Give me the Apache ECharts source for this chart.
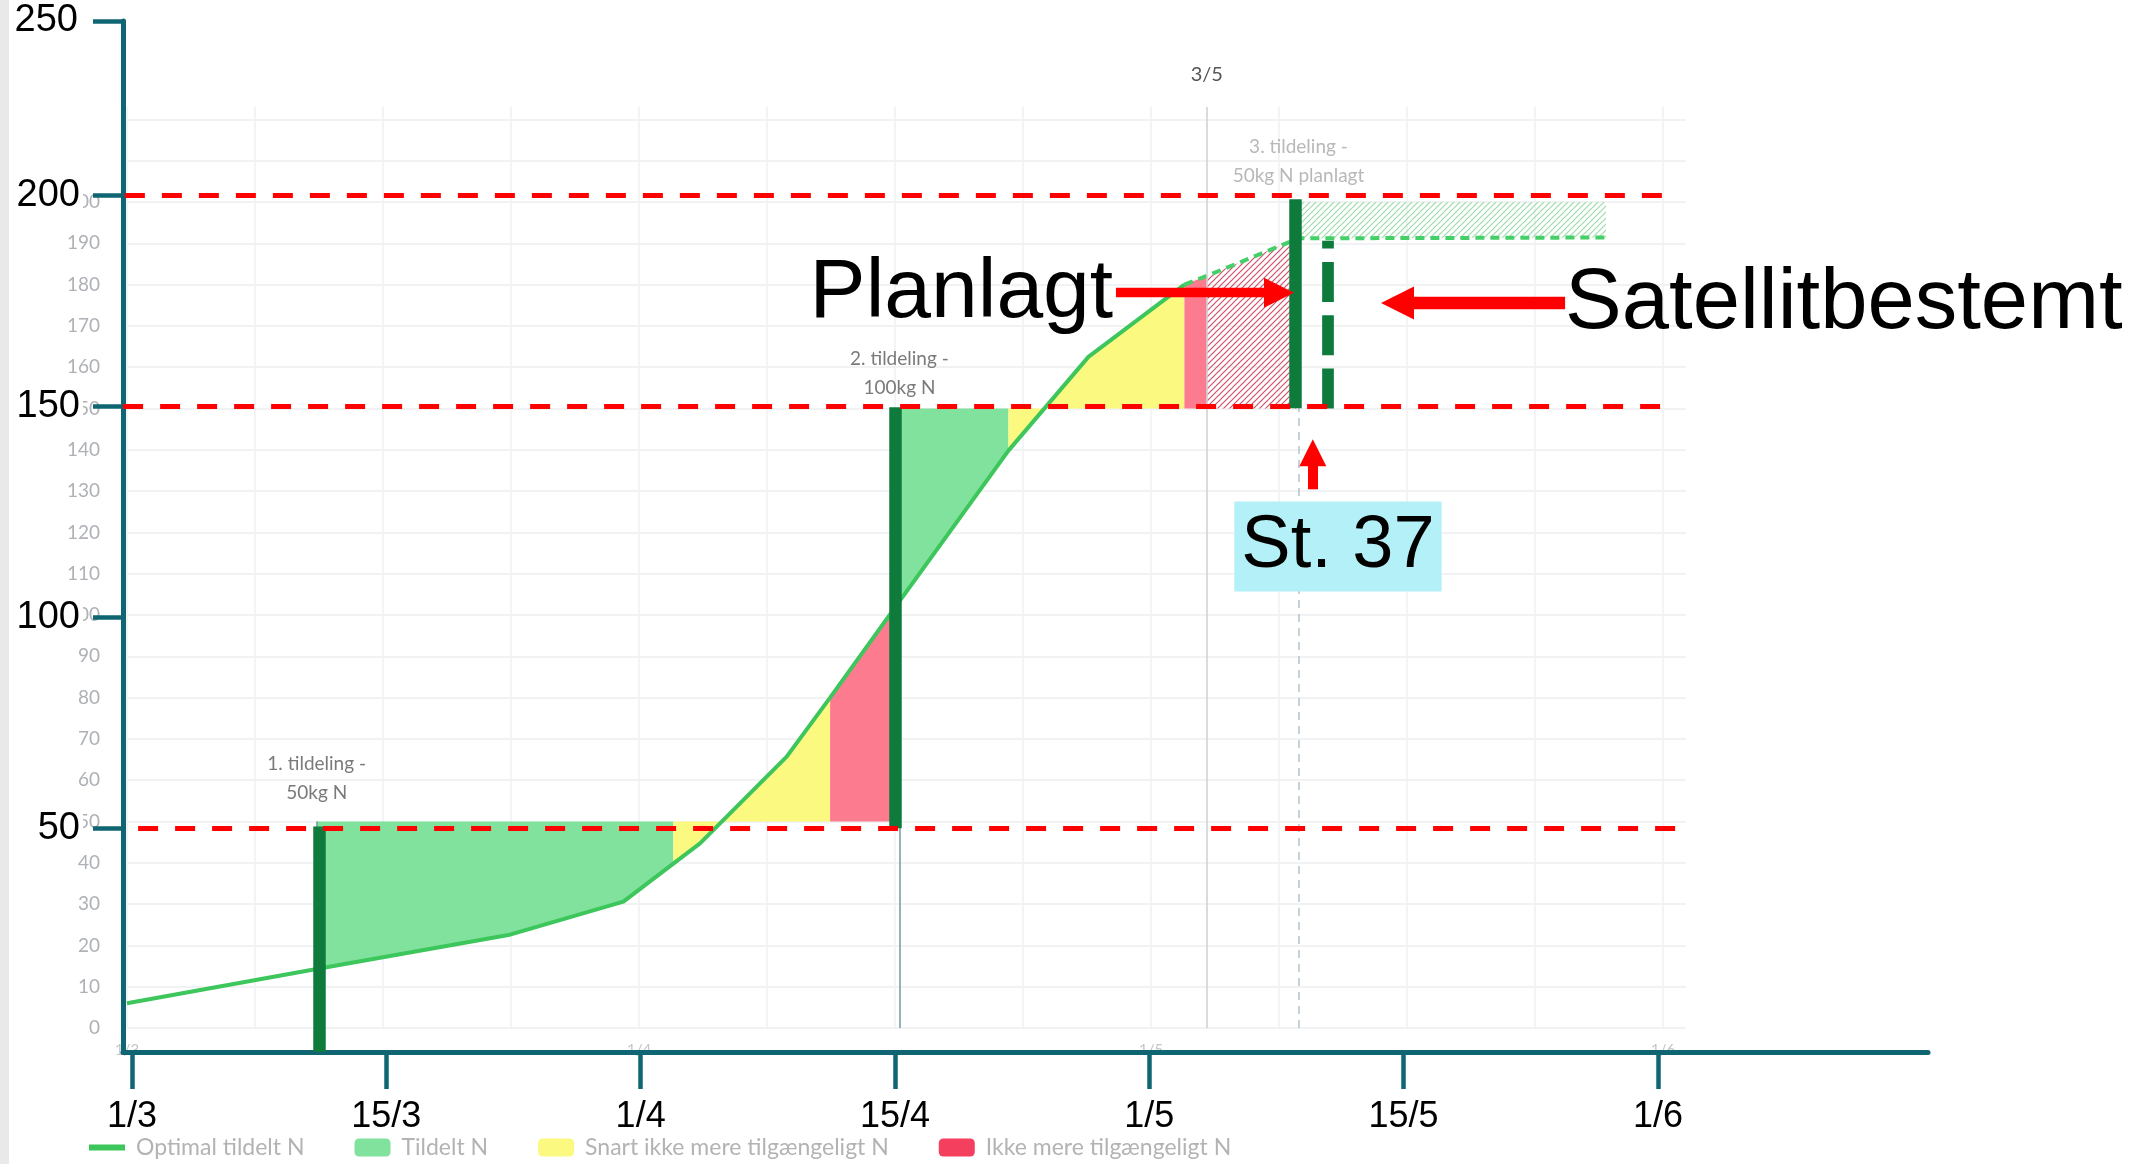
<!DOCTYPE html>
<html><head><meta charset="utf-8">
<script src="https://cdn.jsdelivr.net/npm/echarts@6/dist/echarts.min.js"></script>
<style>html,body{margin:0;padding:0;background:#fff}#c{width:2149px;height:1164px}</style>
</head><body><div id="c"></div><script>
// ---------- underlying chart (x = days since 1 March) ----------
const curveDays   = [0, 11.36, 22.84, 29.73, 32.72, 34.32, 39.51, 42.11, 46.26, 52.79, 57.58, 63.33, 64.67, 70.16, 88.58];
const curveValues = [6.0, 14.3, 22.5, 30.6, 39.8, 44.7, 65.7, 80.0, 103.3, 139.8, 162.5, 180.0, 182.1, 191.2, 191.4];
const plannedFromDay = 63.33;
const tildelingDays   = [11.36, 46.26, 70.16];
const tildelingLevels = [50, 150, 200];
const tildelingLabels = ['1. tildeling -\n50kg N', '2. tildeling -\n100kg N', '3. tildeling -\n50kg N planlagt'];
const todayDay = 64.67;
const todayLabel = '3/5';
const regionStart = [11.36, 32.72, 42.11, 46.26, 52.79, 63.33, 64.67, 70.16];
const regionEnd   = [32.72, 42.11, 46.26, 52.79, 63.33, 64.67, 70.16, 88.58];
const regionLevel = [50, 50, 50, 150, 150, 150, 150, 200];
const regionKind  = ['tildelt', 'snart', 'ikke', 'tildelt', 'snart', 'ikke', 'ikkePlan', 'tildeltPlan'];
const underlyingXLabels = ['1/3', '', '', '', '1/4', '', '', '', '1/5', '', '', '', '1/6'];
const legendNames = ['Optimal tildelt N', 'Tildelt N', 'Snart ikke mere tilgængeligt N', 'Ikke mere tilgængeligt N'];

// ---------- overlay (hand-drawn axes, x = tick index) ----------
const overlayXLabels = ['1/3', '15/3', '1/4', '15/4', '1/5', '15/5', '1/6'];
const overlayXTicks = [0, 1, 2, 3, 4, 5, 6];
const overlayYTicks = [50, 100, 150, 200];
const overlayTopTicks = [250];
const markerLevels = [50, 150, 200];
const markerStart  = [0.024, -0.035, -0.028];
const markerEnd    = [6.105, 6.04, 6.052];
const barX    = [0.7346, 3.0024, 4.5753];
const barFrom = [-3.05, 50, 149.55];
const barTo   = [50.4, 149.8, 199.1];
const satX = 4.701, satFrom = 149.5, satTo = 189.3;
const arrowFrom = [[3.869, 176.96], [5.635, 174.5], [4.643, 130.35]];
const arrowTo   = [[4.510, 176.96], [4.976, 174.5], [4.643, 139.0]];
const notes = [
  {text: 'Planlagt', at: [3.858, 176.6], align: 'right'},
  {text: 'Satellitbestemt', at: [5.635, 174.16], align: 'left'},
  {text: 'St. 37', at: [4.742, 116.8], align: 'center'}
];

// ---------- styles ----------
const TEAL = '#0f6672';
const DARK_GREEN = '#0e7b3d';
function hatch(color) {
  const c = document.createElement('canvas');
  c.width = 6; c.height = 6;
  const g = c.getContext('2d');
  g.strokeStyle = color; g.lineWidth = 1.2;
  g.beginPath();
  g.moveTo(0, 6); g.lineTo(6, 0);
  g.moveTo(-1, 1); g.lineTo(1, -1);
  g.moveTo(5, 7); g.lineTo(7, 5);
  g.stroke();
  return {image: c, repeat: 'repeat'};
}
const fills = {
  tildelt: '#80e29d',
  snart: '#fbf97f',
  ikke: '#fc7b8f',
  ikkePlan: hatch('#d0506b'),
  tildeltPlan: hatch('#9ddcab')
};

function renderRegion(params, api) {
  const i = api.value(3);
  const a = regionStart[i], b = regionEnd[i], L = regionLevel[i];
  const pts = [api.coord([a, L])];
  for (let k = 0; k < curveDays.length; k++) {
    if (curveDays[k] >= a - 1e-9 && curveDays[k] <= b + 1e-9) pts.push(api.coord([curveDays[k], curveValues[k]]));
  }
  pts.push(api.coord([b, L]));
  return {type: 'polygon', shape: {points: pts}, style: {fill: fills[regionKind[i]]}};
}
function regionSeries(name, kinds, color) {
  return {
    type: 'custom', name, xAxisIndex: 0, yAxisIndex: 0, z: 1, silent: true,
    itemStyle: {color}, renderItem: renderRegion, encode: {x: [0, 1], y: 2},
    data: regionStart.map((s, i) => [s, regionEnd[i], regionLevel[i], i]).filter(r => kinds.includes(regionKind[r[3]]))
  };
}

const solidCurve = curveDays.map((d, i) => [d, curveValues[i]]).filter(p => p[0] <= plannedFromDay + 1e-9);
const plannedCurve = curveDays.map((d, i) => [d, curveValues[i]]).filter(p => p[0] >= plannedFromDay - 1e-9);

const tildelingLines = tildelingDays.map((d, i) => {
  const planned = i === 2;
  const ls = {color: planned ? '#b3c3cb' : '#6f99a4', width: 1.5, type: planned ? [8, 6] : 'solid'};
  const lab = {show: true, position: 'end', formatter: tildelingLabels[i], color: planned ? '#b8b8b8' : '#7a7a7a',
    fontSize: 19, lineHeight: 29, fontFamily: 'Lato', distance: [14, 6, 12][i]};
  return [{coord: [d, 0], lineStyle: ls, label: lab}, {coord: [d, tildelingLevels[i]], lineStyle: ls, label: lab}];
});

const overlayFont = 'Liberation Sans, Arial';
const option = {
  animation: false,
  backgroundColor: '#fff',
  graphic: [{type: 'rect', shape: {x: 0, y: 0, width: 9, height: 1164}, style: {fill: '#e9e9e9'}, silent: true}],
  grid: [
    {left: 127, top: 107, width: 1559, height: 921},
    {left: 123, top: 195.5, width: 1805, height: 856.5},
    {left: 123, top: 21, width: 1805, height: 174.5}
  ],
  xAxis: [
    {gridIndex: 0, type: 'value', min: 0, max: 93.37, interval: 92 / 12,
      axisLine: {show: false}, axisTick: {show: false},
      splitLine: {show: true, showMaxLine: false, lineStyle: {color: '#eef0f3', width: 1.5}},
      axisLabel: {formatter: (v, idx) => underlyingXLabels[idx] || '', color: '#c3c5c9', fontSize: 15, fontFamily: 'Lato', margin: 15}},
    {gridIndex: 1, type: 'value', min: -0.0354, max: 7.062, z: 3, position: 'bottom',
      axisLine: {show: true, onZero: false, lineStyle: {color: TEAL, width: 5}},
      axisTick: {show: true, customValues: overlayXTicks, length: 37, lineStyle: {color: TEAL, width: 4.5}},
      axisLabel: {show: true, customValues: overlayXTicks, formatter: v => overlayXLabels[Math.round(v)] || '',
        color: '#000', fontSize: 36, fontFamily: overlayFont, margin: 47},
      splitLine: {show: false}},
    {gridIndex: 2, type: 'value', min: -0.0354, max: 7.062, show: false}
  ],
  yAxis: [
    {gridIndex: 0, type: 'value', min: 0, max: 223, interval: 10,
      axisLine: {show: false}, axisTick: {show: false},
      splitLine: {show: true, showMaxLine: false, lineStyle: {color: '#eceef1', width: 1.5}},
      axisLabel: {formatter: v => (v <= 200 ? String(v) : ''), color: '#aeb1b6', fontSize: 19, fontFamily: 'Lato', margin: 27}},
    {gridIndex: 1, type: 'value', min: -3.05, max: 200, z: 3, position: 'left',
      axisLine: {show: true, onZero: false, lineStyle: {color: TEAL, width: 5}},
      axisTick: {show: true, customValues: overlayYTicks, length: 30, lineStyle: {color: TEAL, width: 4.5}},
      axisLabel: {show: true, customValues: overlayYTicks, color: '#000', fontSize: 38, fontFamily: overlayFont,
        margin: 40, backgroundColor: '#fff', padding: [2, 3]},
      splitLine: {show: false}},
    {gridIndex: 2, type: 'value', min: 200, max: 250, z: 3, position: 'left',
      axisLine: {show: true, onZero: false, lineStyle: {color: TEAL, width: 5}},
      axisTick: {show: true, customValues: overlayTopTicks, length: 30, lineStyle: {color: TEAL, width: 4.5}},
      axisLabel: {show: true, customValues: overlayTopTicks, showMaxLabel: true, color: '#000', fontSize: 38,
        fontFamily: overlayFont, margin: 42, backgroundColor: '#fff', padding: [2, 3]},
      splitLine: {show: false}}
  ],
  legend: {
    left: 84, top: 1131, itemWidth: 36, itemHeight: 18, itemGap: 50, selectedMode: false,
    textStyle: {color: '#b3b3b3', fontSize: 23, fontFamily: 'Lato', padding: [0, 0, 0, 6]},
    data: [
      {name: legendNames[0], icon: 'path://M0,0h0.01v0.01h-0.01zM0,6h36v6h-36zM0,17.99h0.01v0.01h-0.01z', itemStyle: {color: '#3cc65b'}},
      {name: legendNames[1], icon: 'roundRect', itemStyle: {color: '#80e29d'}},
      {name: legendNames[2], icon: 'roundRect', itemStyle: {color: '#fbf97f'}},
      {name: legendNames[3], icon: 'roundRect', itemStyle: {color: '#f4405e'}}
    ]
  },
  series: [
    regionSeries(legendNames[1], ['tildelt', 'tildeltPlan'], '#80e29d'),
    regionSeries(legendNames[2], ['snart'], '#fbf97f'),
    regionSeries(legendNames[3], ['ikke', 'ikkePlan'], '#f4405e'),
    {type: 'line', name: legendNames[0], xAxisIndex: 0, yAxisIndex: 0, z: 3, data: solidCurve, symbol: 'none',
      lineStyle: {color: '#3cc65b', width: 4}, itemStyle: {color: '#3cc65b'}},
    {type: 'line', xAxisIndex: 0, yAxisIndex: 0, z: 3, data: plannedCurve, symbol: 'none',
      lineStyle: {color: '#45cf68', width: 4, type: [9, 6]}},
    {type: 'line', xAxisIndex: 0, yAxisIndex: 0, z: 2, data: [],
      markLine: {symbol: 'none', silent: true, animation: false, data: [
        {xAxis: todayDay, lineStyle: {color: '#cdd1d4', width: 1.5, type: 'solid'},
          label: {show: true, formatter: todayLabel, position: 'end', distance: 22, color: '#555', fontSize: 20, fontFamily: 'Lato'}}
      ].concat(tildelingLines)}},
    // overlay: thick bars
    {type: 'line', xAxisIndex: 1, yAxisIndex: 1, z: 4, data: [],
      markLine: {symbol: 'none', silent: true, animation: false, label: {show: false},
        data: barX.map((x, i) => [
          {coord: [x, barFrom[i]], lineStyle: {color: DARK_GREEN, width: 12.5, type: 'solid', cap: 'butt'}},
          {coord: [x, barTo[i]]}
        ]).concat([[
          {coord: [satX, satFrom], lineStyle: {color: DARK_GREEN, width: 11.7, type: [40, 13.3], cap: 'butt'}},
          {coord: [satX, satTo]}
        ]])}},
    // overlay: red dashed markers
    {type: 'line', xAxisIndex: 1, yAxisIndex: 1, z: 5, data: [],
      markLine: {symbol: 'none', silent: true, animation: false, label: {show: false},
        data: markerLevels.map((v, i) => [
          {coord: [markerStart[i], v], lineStyle: {color: '#ff0000', width: 5, type: [20, 17]}},
          {coord: [markerEnd[i], v]}
        ])}},
    // overlay: arrows
    {type: 'line', xAxisIndex: 1, yAxisIndex: 1, z: 6, data: [],
      markLine: {silent: true, animation: false, label: {show: false},
        data: arrowFrom.map((p, i) => [
          {coord: p, symbol: 'none', lineStyle: {color: '#ff0000', width: [9.3, 12.4, 10][i], type: 'solid'}},
          {coord: arrowTo[i], symbol: 'triangle', symbolSize: [30, 33, 27][i]}
        ])}},
    // overlay: text notes
    {type: 'line', xAxisIndex: 1, yAxisIndex: 1, z: 7, data: [],
      markPoint: {silent: true, animation: false,
        data: notes.map((n, i) => ({
          coord: n.at, symbol: 'circle', symbolSize: 1, itemStyle: {color: 'rgba(0,0,0,0)'},
          label: Object.assign({show: true, position: 'inside', formatter: n.text, align: n.align, verticalAlign: 'middle',
            color: '#000', fontFamily: overlayFont, fontSize: [84, 85, 74][i]},
            i === 2 ? {backgroundColor: '#b4f0f8', padding: [5, 7], lineHeight: 80} : {})
        }))}}
  ]
};
const chart = echarts.init(document.getElementById('c'), null, {renderer: 'canvas'});
chart.setOption(option);
</script></body></html>
